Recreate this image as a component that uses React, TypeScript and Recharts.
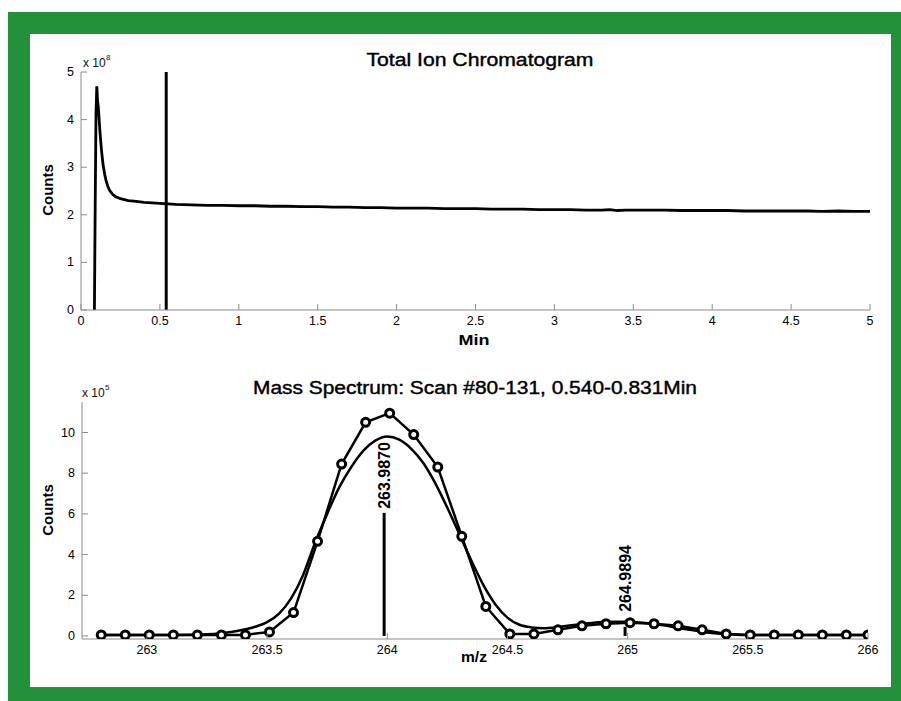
import React from 'react';
import { LineChart, Line, XAxis, YAxis, ReferenceLine } from 'recharts';

// ---- Total Ion Chromatogram (counts x 10^8) ----
const ticTime = [
  0.085, 0.09, 0.095, 0.1, 0.105, 0.11, 0.115, 0.12, 0.13, 0.14, 0.15, 0.16, 0.17, 0.18, 0.2, 0.22,
  0.25, 0.3, 0.35, 0.4, 0.45, 0.5, 0.6, 0.7, 0.8, 0.9, 1.0, 1.1, 1.2, 1.3, 1.4, 1.5, 1.6, 1.7,
  1.8, 1.9, 2.0, 2.1, 2.2, 2.3, 2.4, 2.5, 2.6, 2.7, 2.8, 2.9, 3.0, 3.1, 3.2, 3.3, 3.35, 3.4,
  3.45, 3.5, 3.6, 3.7, 3.8, 3.9, 4.0, 4.1, 4.2, 4.3, 4.4, 4.5, 4.6, 4.7, 4.8, 4.9, 5.0,
];
const ticCounts = [
  0, 2.2, 4.1, 4.7, 4.4, 4.25, 4.0, 3.75, 3.35, 3.05, 2.85, 2.7, 2.6, 2.52, 2.43, 2.38,
  2.34, 2.3, 2.28, 2.26, 2.25, 2.24, 2.22, 2.21, 2.2, 2.2, 2.19, 2.19, 2.18, 2.18, 2.17, 2.17, 2.16, 2.16,
  2.15, 2.15, 2.14, 2.14, 2.14, 2.13, 2.13, 2.13, 2.12, 2.12, 2.12, 2.11, 2.11, 2.11, 2.1, 2.1, 2.11, 2.09,
  2.1, 2.1, 2.1, 2.1, 2.09, 2.09, 2.09, 2.09, 2.08, 2.08, 2.08, 2.08, 2.08, 2.07, 2.08, 2.07, 2.07,
];
const ticXTicks = [0, 0.5, 1, 1.5, 2, 2.5, 3, 3.5, 4, 4.5, 5];
const ticYTicks = [0, 1, 2, 3, 4, 5];
const scanMarkerTime = 0.54;

// ---- Mass spectrum (counts x 10^5) ----
const mzProfile = [
  262.81, 262.91, 263.01, 263.11, 263.21, 263.31, 263.41, 263.51, 263.61, 263.71, 263.81, 263.91, 264.01,
  264.11, 264.21, 264.31, 264.41, 264.51, 264.61, 264.71, 264.81, 264.91, 265.01, 265.11, 265.21, 265.31,
  265.41, 265.51, 265.61, 265.71, 265.81, 265.91, 266.0,
];
const countsProfile = [
  0.05, 0.05, 0.05, 0.05, 0.05, 0.05, 0.05, 0.2, 1.15, 4.65, 8.45, 10.5, 10.95,
  9.9, 8.3, 4.9, 1.45, 0.1, 0.1, 0.3, 0.5, 0.6, 0.65, 0.6, 0.5, 0.3,
  0.1, 0.05, 0.05, 0.05, 0.05, 0.05, 0.05,
];
const mzFit = [
  262.8, 262.9, 263.0, 263.1, 263.2, 263.25, 263.3, 263.35, 263.4, 263.45, 263.5, 263.55, 263.6,
  263.65, 263.7, 263.75, 263.8, 263.85, 263.9, 263.95, 264.0, 264.05, 264.1, 264.15, 264.2, 264.25,
  264.3, 264.35, 264.4, 264.45, 264.5, 264.55, 264.6, 264.65, 264.7, 264.75, 264.8, 264.85, 264.9,
  264.95, 265.0, 265.05, 265.1, 265.15, 265.2, 265.25, 265.3, 265.35, 265.4, 265.45, 265.5, 265.7, 266.0,
];
const countsFit = [
  0.05, 0.05, 0.05, 0.05, 0.06, 0.08, 0.12, 0.19, 0.3, 0.45, 0.68, 1.1, 1.85,
  3.0, 4.6, 6.0, 7.3, 8.3, 9.1, 9.6, 9.8, 9.65, 9.2, 8.5, 7.5, 6.3,
  5.0, 3.7, 2.5, 1.55, 0.9, 0.55, 0.42, 0.38, 0.42, 0.5, 0.58, 0.64, 0.68,
  0.7, 0.7, 0.66, 0.6, 0.52, 0.42, 0.32, 0.22, 0.14, 0.09, 0.06, 0.05, 0.05, 0.05,
];
const centroidMz = [263.987, 264.9894];
const centroidCounts = [6.05, 0.45];
const centroidLabels = ['263.9870', '264.9894'];
const msXTicks = [263, 263.5, 264, 264.5, 265, 265.5, 266];
const msYTicks = [0, 2, 4, 6, 8, 10];

const FONT = '"Liberation Sans", Arial, Helvetica, sans-serif';
const AXIS_GREY = '#8c8c8c';

const ticData = ticTime.map((x, i) => ({ x, y: ticCounts[i] }));
const profileData = mzProfile.map((x, i) => ({ x, y: countsProfile[i] }));
const fitData = mzFit.map((x, i) => ({ x, y: countsFit[i] }));
const stickData = centroidMz.map((x, i) => [
  { x, y: 0 },
  { x, y: centroidCounts[i] },
]);
const labelGap = [4, 15];

const renderXTick = (props: any) => {
  const { x, y, payload } = props;
  return (
    <g>
      <line x1={x} y1={y} x2={x} y2={y - 6} stroke={AXIS_GREY} strokeWidth={1} />
      <text x={x} y={y + 15} textAnchor="middle" fontSize={12.5} fontFamily={FONT} fill="#000">
        {payload.value}
      </text>
    </g>
  );
};

const renderYTick = (props: any) => {
  const { x, y, payload } = props;
  return (
    <g>
      <line x1={x} y1={y} x2={x + 6} y2={y} stroke={AXIS_GREY} strokeWidth={1} />
      <text x={x - 7} y={y + 4} textAnchor="end" fontSize={12.5} fontFamily={FONT} fill="#000">
        {payload.value}
      </text>
    </g>
  );
};

const stickLabel = (i: number) => (props: any) => {
  const { x, y, index } = props;
  if (index !== 1) return null;
  const tx = x + 6;
  const ty = y - labelGap[i];
  return (
    <text
      x={tx}
      y={ty}
      transform={`rotate(-90 ${tx} ${ty})`}
      textAnchor="start"
      fontSize={16}
      fontWeight="bold"
      fontFamily={FONT}
      fill="#000"
    >
      {centroidLabels[i]}
    </text>
  );
};

export default function App() {
  return (
    <div style={{ position: 'absolute', left: 0, top: 0, width: 901, height: 701, background: '#fff', overflow: 'hidden' }}>
      <div style={{ position: 'absolute', left: 8, top: 12, width: 893, height: 689, background: '#22913a' }} />
      <div style={{ position: 'absolute', left: 30, top: 34, width: 861, height: 653, background: '#fff' }} />

      <div style={{ position: 'absolute', left: 0, top: 0 }}>
        <LineChart width={901} height={350} margin={{ top: 72, right: 31, bottom: 10, left: 41 }}>
          <XAxis
            type="number"
            dataKey="x"
            domain={[0, 5]}
            ticks={ticXTicks}
            allowDataOverflow
            height={30}
            tickSize={0}
            tickMargin={0}
            tick={renderXTick}
            axisLine={{ stroke: AXIS_GREY }}
          />
          <YAxis
            type="number"
            dataKey="y"
            domain={[0, 5]}
            ticks={ticYTicks}
            allowDataOverflow
            width={40}
            tickSize={0}
            tickMargin={0}
            tick={renderYTick}
            axisLine={{ stroke: AXIS_GREY }}
          />
          <ReferenceLine x={scanMarkerTime} stroke="#000" strokeWidth={3} />
          <Line
            data={ticData}
            dataKey="y"
            type="linear"
            stroke="#000"
            strokeWidth={2.8}
            dot={false}
            isAnimationActive={false}
          />
        </LineChart>
      </div>

      <div style={{ position: 'absolute', left: 0, top: 350 }}>
        <LineChart width={901} height={350} margin={{ top: 52, right: 33, bottom: 31, left: 42 }}>
          <XAxis
            type="number"
            dataKey="x"
            domain={[262.73, 266]}
            ticks={msXTicks}
            allowDataOverflow
            height={30}
            tickSize={0}
            tickMargin={0}
            tick={renderXTick}
            axisLine={{ stroke: AXIS_GREY }}
          />
          <YAxis
            type="number"
            dataKey="y"
            domain={[-0.15, 11.5]}
            ticks={msYTicks}
            allowDataOverflow
            width={40}
            tickSize={0}
            tickMargin={0}
            tick={renderYTick}
            axisLine={{ stroke: AXIS_GREY }}
          />
          {stickData.map((d, i) => (
            <Line
              key={'stick' + i}
              data={d}
              dataKey="y"
              type="linear"
              stroke="#000"
              strokeWidth={3}
              dot={false}
              label={stickLabel(i)}
              isAnimationActive={false}
            />
          ))}
          <Line
            data={fitData}
            dataKey="y"
            type="monotone"
            stroke="#000"
            strokeWidth={2.5}
            dot={false}
            isAnimationActive={false}
          />
          <Line
            data={profileData}
            dataKey="y"
            type="linear"
            stroke="#000"
            strokeWidth={2.5}
            dot={{ r: 4, stroke: '#000', strokeWidth: 3, fill: '#fff' }}
            isAnimationActive={false}
          />
        </LineChart>
      </div>

      <svg width={901} height={701} style={{ position: 'absolute', left: 0, top: 0, pointerEvents: 'none' }}>
        <text x={480} y={66} textAnchor="middle" fontSize={18} fontFamily={FONT} textLength={227} lengthAdjust="spacingAndGlyphs" stroke="#000" strokeWidth={0.4}>
          Total Ion Chromatogram
        </text>
        <text x={83} y={67} fontSize={12} fontFamily={FONT} fill="#111">x 10</text>
        <text x={106} y={60} fontSize={8} fontFamily={FONT} fill="#111">8</text>
        <text x={53} y={190} transform="rotate(-90 53 190)" textAnchor="middle" fontSize={15} fontWeight="bold" fontFamily={FONT}>
          Counts
        </text>
        <text x={474} y={345} textAnchor="middle" fontSize={15} fontWeight="bold" fontFamily={FONT} textLength={31} lengthAdjust="spacingAndGlyphs">
          Min
        </text>

        <text x={475} y={394} textAnchor="middle" fontSize={18} fontFamily={FONT} textLength={444} lengthAdjust="spacingAndGlyphs" stroke="#000" strokeWidth={0.4}>
          Mass Spectrum: Scan #80-131, 0.540-0.831Min
        </text>
        <text x={82} y={397} fontSize={12} fontFamily={FONT} fill="#111">x 10</text>
        <text x={105} y={390} fontSize={8} fontFamily={FONT} fill="#111">5</text>
        <text x={53} y={510} transform="rotate(-90 53 510)" textAnchor="middle" fontSize={15} fontWeight="bold" fontFamily={FONT}>
          Counts
        </text>
        <text x={474} y={662} textAnchor="middle" fontSize={15} fontWeight="bold" fontFamily={FONT} textLength={26} lengthAdjust="spacingAndGlyphs">
          m/z
        </text>
      </svg>
    </div>
  );
}
